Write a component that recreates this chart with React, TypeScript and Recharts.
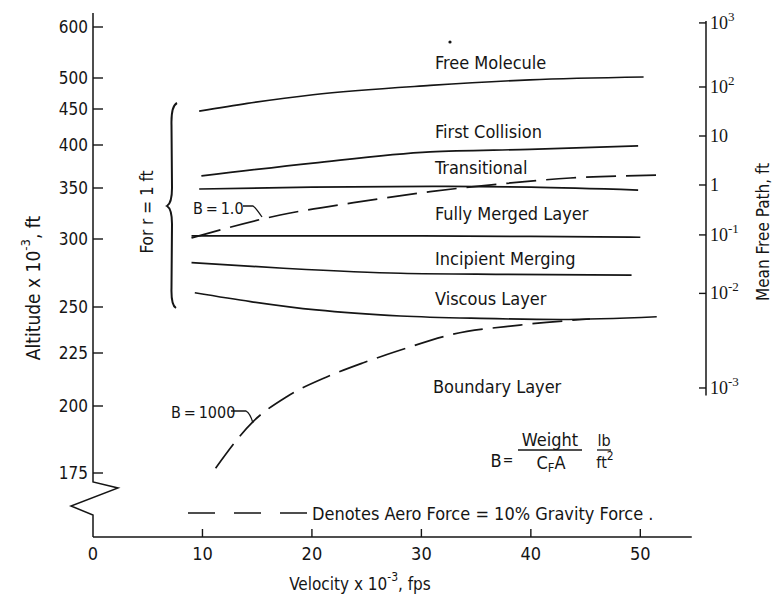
import React from 'react';
import { LineChart, Line, XAxis, YAxis } from 'recharts';

// ---------- axes ----------
const velocityTicks = [0, 10, 20, 30, 40, 50];
const altitudeTicks = [175, 200, 225, 250, 300, 350, 400, 450, 500, 600];
// the original altitude axis is non-linear: relative height of each tick above the velocity axis
const altitudeTickHeights = [64, 131, 184, 230, 298, 349, 392, 428, 459, 510];
const mfpTickBase = ['10', '10', '10', '1', '10', '10', '10'];
const mfpTickExp = ['3', '2', '', '', '-1', '-2', '-3'];
const mfpTickAltitudes = [608, 485.5, 412.5, 353.5, 304, 260, 208.5];

// ---------- series (velocity x 10^-3 fps, altitude x 10^-3 ft) ----------
const freeMoleculeV = [9.7, 14.1, 20.1, 30.8, 39.9, 50.3];
const freeMoleculeAlt = [447, 459, 473, 488, 497, 502];
const firstCollisionV = [9.9, 20.1, 30.8, 39.9, 49.8];
const firstCollisionAlt = [364, 379, 392, 395, 399];
const transitionalV = [9.7, 20, 31, 40, 49.8];
const transitionalAlt = [349, 351, 352, 351, 348];
const fullyMergedV = [9.0, 20, 30, 40, 50];
const fullyMergedAlt = [303, 303, 303, 302.5, 301.7];
const incipientV = [9.0, 17.4, 28.1, 37.2, 49.2];
const incipientAlt = [282.6, 278.5, 274.8, 274, 273.5];
const viscousV = [9.3, 14.4, 20.4, 28.1, 35.4, 42.7, 51.5];
const viscousAlt = [260.5, 254, 248.4, 245.1, 243.8, 243.2, 244.7];
const b1V = [9.0, 17.1, 23.8, 30.8, 37.2, 43.6, 52.1];
const b1Alt = [301, 323.5, 335.6, 346.4, 354.7, 361.6, 365];
const b1000V = [11.2, 14.6, 17.7, 21.4, 24.7, 28.1, 32.6, 39.0, 45.4];
const b1000Alt = [176.8, 194.1, 204.4, 213.8, 220.4, 226.6, 234.8, 240.2, 243.5];

const U_MAX = 524;
const X_MAX = 56;
const X_AXIS_END = 54.7;

function toU(a: number): number {
  const A = altitudeTicks;
  const H = altitudeTickHeights;
  let i = 0;
  if (a >= A[A.length - 1]) i = A.length - 2;
  else if (a > A[0]) {
    while (a > A[i + 1]) i++;
  }
  return H[i] + ((a - A[i]) * (H[i + 1] - H[i])) / (A[i + 1] - A[i]);
}

const mk = (v: number[], alt: number[]) => v.map((x, i) => ({ v: x, u: toU(alt[i]) }));

const series = [
  { id: 'fm', data: mk(freeMoleculeV, freeMoleculeAlt), dashed: false },
  { id: 'fc', data: mk(firstCollisionV, firstCollisionAlt), dashed: false },
  { id: 'tr', data: mk(transitionalV, transitionalAlt), dashed: false },
  { id: 'fu', data: mk(fullyMergedV, fullyMergedAlt), dashed: false },
  { id: 'in', data: mk(incipientV, incipientAlt), dashed: false },
  { id: 'vi', data: mk(viscousV, viscousAlt), dashed: false },
  { id: 'b1', data: mk(b1V, b1Alt), dashed: true },
  { id: 'b1000', data: mk(b1000V, b1000Alt), dashed: true },
];

const W = 778;
const H = 599;
const PLOT = { left: 93, top: 13, right: 706, bottom: 537 };
const INK = '#151515';
const SANS = "'Liberation Sans Narrow', 'DejaVu Sans Condensed', 'Arial Narrow', sans-serif";
const SERIF = "'Liberation Serif', 'DejaVu Serif', serif";

const yOf = (alt: number) => PLOT.bottom - (toU(alt) / U_MAX) * (PLOT.bottom - PLOT.top);
const xOf = (v: number) => PLOT.left + (v / X_MAX) * (PLOT.right - PLOT.left);

const AltTick = (props: any) => {
  const { x, y, index } = props;
  return (
    <g>
      <line x1={x} y1={y} x2={x + 10} y2={y} stroke={INK} strokeWidth={1.4} />
      <text x={x - 5} y={y} textAnchor="end" dominantBaseline="central" fontFamily={SANS} fontSize={17} fill={INK}>
        {altitudeTicks[index]}
      </text>
    </g>
  );
};

const MfpTick = (props: any) => {
  const { x, y, index } = props;
  const exp = mfpTickExp[index];
  return (
    <g>
      <line x1={x - 7} y1={y} x2={x} y2={y} stroke={INK} strokeWidth={1.4} />
      <text x={x + 4} y={y} dominantBaseline="central" fontFamily={SERIF} fontSize={18} fill={INK}>
        {mfpTickBase[index]}
        {exp ? (
          <tspan dy={-7} fontSize={13}>
            {exp}
          </tspan>
        ) : null}
      </text>
    </g>
  );
};

const VelTick = (props: any) => {
  const { x, y, payload } = props;
  return (
    <g>
      {payload.value !== 0 ? <line x1={x} y1={y} x2={x} y2={y - 8} stroke={INK} strokeWidth={1.4} /> : null}
      <text x={x} y={y + 16} textAnchor="middle" dominantBaseline="central" fontFamily={SANS} fontSize={18} fill={INK}>
        {payload.value}
      </text>
    </g>
  );
};

const Sup = ({ t, size = 12, up = 7 }: { t: string; size?: number; up?: number }) => (
  <tspan dy={-up} fontSize={size}>
    {t}
  </tspan>
);

export default function App() {
  const y175 = yOf(175);
  const axisX = PLOT.left;
  const breakTop = y175 + 9;
  const lbl = { fontFamily: SANS, fontSize: 18, fill: INK } as any;
  return (
    <div style={{ position: 'relative', width: W, height: H, background: '#fff' }}>
      <style>{'body{margin:0;background:#fff}'}</style>
      <LineChart width={W} height={H} margin={{ top: 13, right: 12, bottom: 32, left: 33 }}>
        <XAxis
          type="number"
          dataKey="v"
          domain={[0, X_MAX]}
          ticks={velocityTicks}
          interval={0}
          allowDataOverflow
          axisLine={false}
          tickLine={false}
          tickSize={0}
          tickMargin={0}
          height={30}
          tick={VelTick}
        />
        <YAxis
          yAxisId="alt"
          type="number"
          domain={[0, U_MAX]}
          ticks={altitudeTicks.map(toU)}
          interval={0}
          allowDataOverflow
          axisLine={false}
          tickLine={false}
          tickSize={0}
          tickMargin={0}
          width={60}
          tick={AltTick}
        />
        <YAxis
          yAxisId="mfp"
          orientation="right"
          type="number"
          domain={[0, U_MAX]}
          ticks={mfpTickAltitudes.map(toU)}
          interval={0}
          allowDataOverflow
          axisLine={false}
          tickLine={false}
          tickSize={0}
          tickMargin={0}
          width={60}
          tick={MfpTick}
        />
        {series.map((s) => (
          <Line
            key={s.id}
            yAxisId="alt"
            data={s.data}
            dataKey="u"
            type="monotone"
            dot={false}
            stroke={INK}
            strokeWidth={1.7}
            strokeDasharray={s.dashed ? '30 10' : undefined}
            isAnimationActive={false}
          />
        ))}
      </LineChart>
      <svg
        width={W}
        height={H}
        style={{ position: 'absolute', left: 0, top: 0, pointerEvents: 'none' }}
      >
        {/* left axis with break */}
        <path
          d={`M${axisX},${PLOT.top} L${axisX},${breakTop} L${axisX + 25},${breakTop + 6} L${axisX - 22},${breakTop + 24} L${axisX},${breakTop + 33} L${axisX},${PLOT.bottom}`}
          fill="none"
          stroke={INK}
          strokeWidth={1.5}
        />
        {/* velocity axis */}
        <line x1={axisX} y1={PLOT.bottom} x2={xOf(X_AXIS_END)} y2={PLOT.bottom} stroke={INK} strokeWidth={1.6} />
        {/* mean free path axis */}
        <line x1={PLOT.right} y1={yOf(612)} x2={PLOT.right} y2={yOf(205)} stroke={INK} strokeWidth={1.5} />

        {/* axis titles */}
        <text transform="translate(33,288) rotate(-90)" textAnchor="middle" dominantBaseline="central" {...lbl} fontSize={19}>
          Altitude x 10<Sup t="-3" size={13} up={8} />
          <tspan dy={8}>, ft</tspan>
        </text>
        <text transform="translate(763,232) rotate(-90)" textAnchor="middle" dominantBaseline="central" {...lbl} fontSize={17}>
          Mean Free Path, ft
        </text>
        <text x={360} y={584} textAnchor="middle" dominantBaseline="central" {...lbl} fontSize={17}>
          Velocity x 10<Sup t="-3" />
          <tspan dy={7}>, fps</tspan>
        </text>

        {/* regime labels */}
        <text x={435} y={62} dominantBaseline="central" {...lbl}>Free Molecule</text>
        <text x={435} y={131} dominantBaseline="central" {...lbl}>First Collision</text>
        <text x={435} y={167} dominantBaseline="central" {...lbl}>Transitional</text>
        <text x={435} y={213} dominantBaseline="central" {...lbl}>Fully Merged Layer</text>
        <text x={435} y={258} dominantBaseline="central" {...lbl}>Incipient Merging</text>
        <text x={435} y={298} dominantBaseline="central" {...lbl}>Viscous Layer</text>
        <text x={433} y={386} dominantBaseline="central" {...lbl}>Boundary Layer</text>
        <circle cx={450} cy={42} r={1.6} fill={INK} />

        {/* brace for r = 1 ft */}
        <path
          d="M177,103 Q171,106 171.5,125 L172,188 Q172,203 167,206 Q172,209 172,224 L171.5,288 Q171,305 176,308"
          fill="none"
          stroke={INK}
          strokeWidth={2}
        />
        <text transform="translate(147,212) rotate(-90)" textAnchor="middle" dominantBaseline="central" {...lbl} fontSize={17}>
          For r = 1 ft
        </text>

        {/* B labels */}
        <text x={193} y={208} dominantBaseline="central" {...lbl} fontSize={16}>{'B\u2009=\u20091.0'}</text>
        <path d="M243,206 L253,206 Q256,208 262,217" fill="none" stroke={INK} strokeWidth={1.3} />
        <text x={171} y={412} dominantBaseline="central" {...lbl} fontSize={16}>{'B\u2009=\u20091000'}</text>
        <path d="M231,411 L246,411 Q250,413 253,423" fill="none" stroke={INK} strokeWidth={1.3} />

        {/* formula */}
        <text x={496} y={460} textAnchor="middle" dominantBaseline="central" {...lbl}>B</text>
        <text x={508} y={460} textAnchor="middle" dominantBaseline="central" {...lbl} fontSize={14}>=</text>
        <text x={550} y={439} textAnchor="middle" dominantBaseline="central" {...lbl}>Weight</text>
        <line x1={518} y1={450} x2={582} y2={450} stroke={INK} strokeWidth={1.3} />
        <text x={551} y={462} textAnchor="middle" dominantBaseline="central" {...lbl}>
          C<tspan dy={5} fontSize={13}>F</tspan>
          <tspan dy={-5}>A</tspan>
        </text>
        <text x={604} y={440} textAnchor="middle" dominantBaseline="central" {...lbl} fontSize={16}>lb</text>
        <line x1={597} y1={450} x2={611} y2={450} stroke={INK} strokeWidth={1.3} />
        <text x={605} y={462} textAnchor="middle" dominantBaseline="central" {...lbl} fontSize={16}>
          ft<Sup t="2" size={12} up={6} />
        </text>

        {/* legend */}
        <line x1={188} y1={513} x2={308} y2={513} stroke={INK} strokeWidth={1.7} strokeDasharray="27 19" />
        <text x={312} y={513} dominantBaseline="central" {...lbl}>
          Denotes Aero Force = 10% Gravity Force  .
        </text>
      </svg>
    </div>
  );
}
